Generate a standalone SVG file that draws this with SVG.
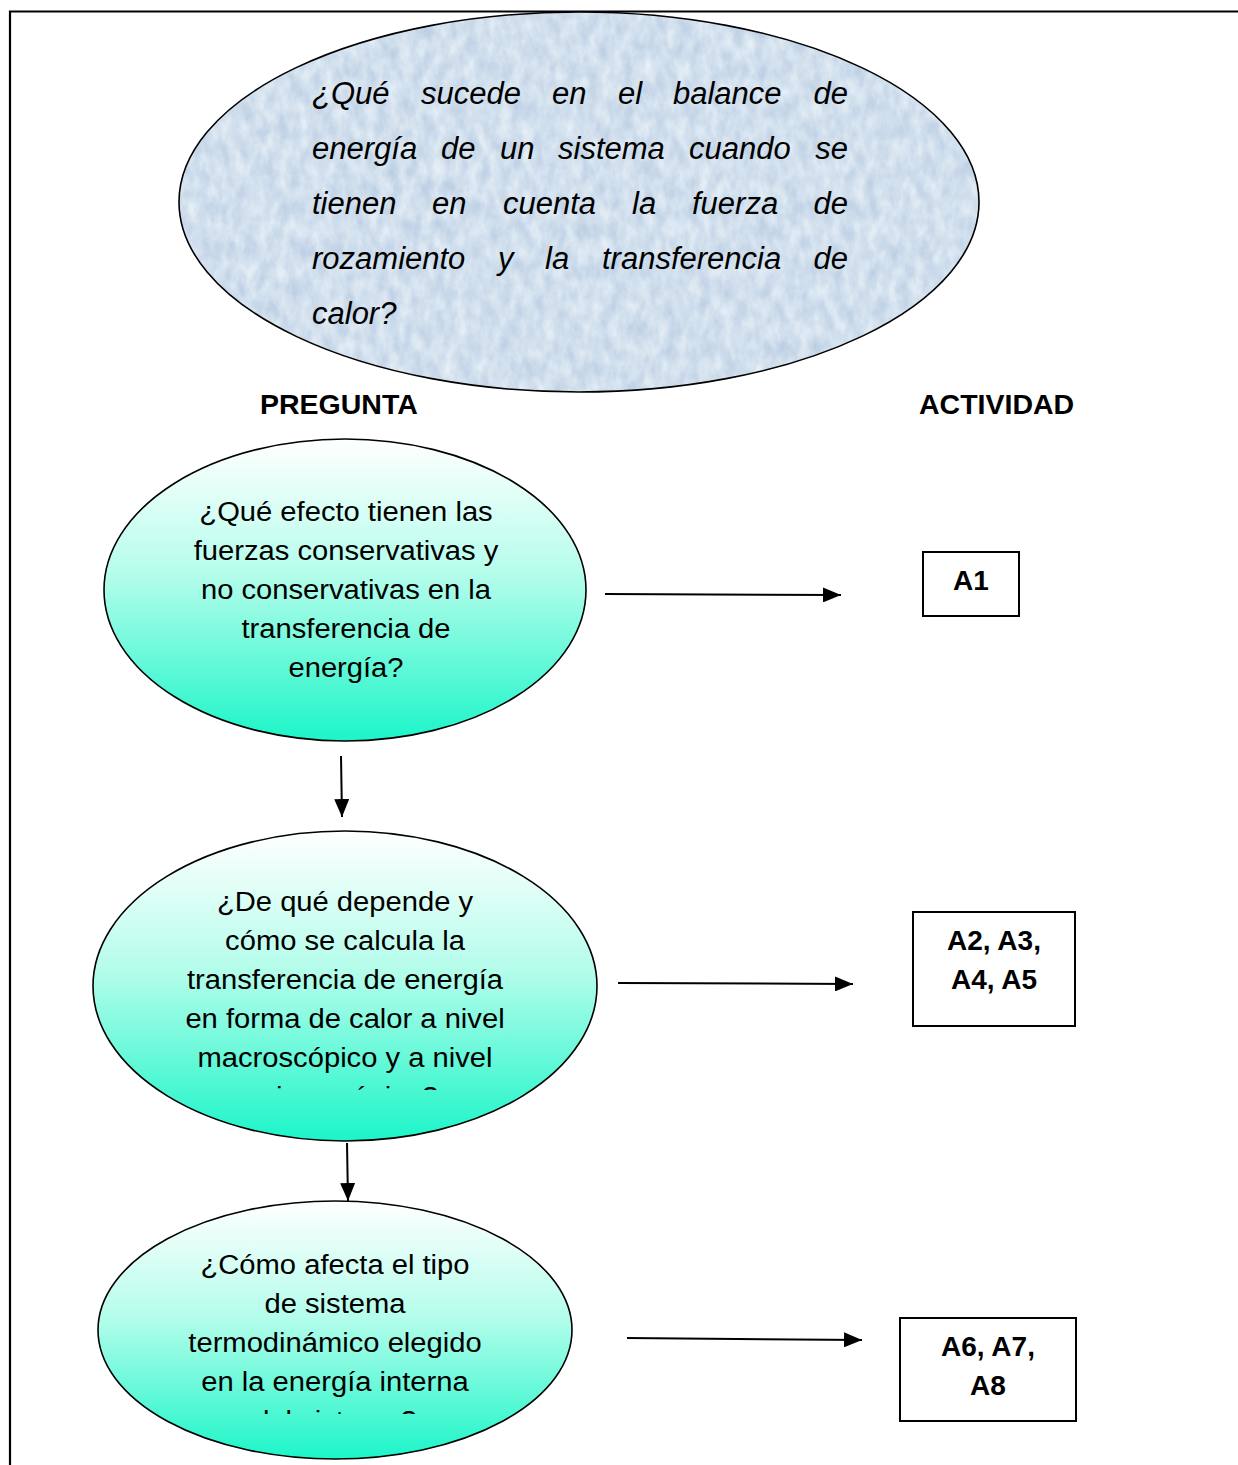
<svg xmlns="http://www.w3.org/2000/svg" width="1238" height="1465" viewBox="0 0 1238 1465">
  <defs>
    <style>
      .frame { fill: none; stroke: #000; stroke-width: 2.2; }
      .oval { stroke: #000; stroke-width: 1.6; }
      .box { fill: #fff; stroke: #000; stroke-width: 2; }
      .q { font-family: "Liberation Sans", Arial, sans-serif; font-size: 31px; font-style: italic; fill: #000; }
      .t { font-family: "Liberation Sans", Arial, sans-serif; font-size: 27px; fill: #000; text-anchor: middle; }
      .h { font-family: "Liberation Sans", Arial, sans-serif; font-size: 28.5px; font-weight: bold; fill: #000; }
      .a { font-family: "Liberation Sans", Arial, sans-serif; font-size: 28px; font-weight: bold; fill: #000; text-anchor: middle; }
      .conn { stroke: #000; stroke-width: 2; fill: none; marker-end: url(#head); }
    </style>
    <linearGradient id="mint" x1="0" y1="0" x2="0" y2="1">
      <stop offset="0" stop-color="#ffffff"/>
      <stop offset="0.45" stop-color="#b4fdeb"/>
      <stop offset="1" stop-color="#1cf5c8"/>
    </linearGradient>
    <!-- frosted blue paper texture for the main question -->
    <filter id="frost" x="0" y="0" width="1" height="1" color-interpolation-filters="sRGB">
      <feTurbulence type="fractalNoise" baseFrequency="0.09 0.05" numOctaves="4" seed="7" result="n"/>
      <feColorMatrix in="n" type="matrix" values="0.22 0 0 0 0.71  0.17 0 0 0 0.79  0.1 0 0 0 0.88  0 0 0 0 1" result="c"/>
      <feComposite in="c" in2="SourceAlpha" operator="in"/>
    </filter>
    <marker id="head" viewBox="0 0 18 15" markerUnits="userSpaceOnUse" markerWidth="18" markerHeight="15" refX="18" refY="7.5" orient="auto">
      <path d="M0,0 L18,7.5 L0,15 z" fill="#000"/>
    </marker>
    <clipPath id="clip3"><rect x="80" y="820" width="540" height="270"/></clipPath>
    <clipPath id="clip4"><rect x="80" y="1195" width="520" height="219"/></clipPath>
  </defs>

  <!-- page frame -->
  <path class="frame" d="M10,1465 V11.5 H1238"/>

  <!-- main question -->
  <g id="main-question">
    <ellipse cx="579" cy="202" rx="400" ry="190" fill="#d6e3f0" filter="url(#frost)"/>
    <ellipse cx="579" cy="202" rx="400" ry="190" fill="none" class="oval"/>
    <text class="q" y="104"><tspan x="312">¿Qué</tspan><tspan x="421">sucede</tspan><tspan x="552">en</tspan><tspan x="618">el</tspan><tspan x="673">balance</tspan></text>
    <text class="q" y="104" x="848" text-anchor="end">de</text>
    <text class="q" y="159"><tspan x="312">energía</tspan><tspan x="441">de</tspan><tspan x="500">un</tspan><tspan x="558">sistema</tspan><tspan x="689">cuando</tspan></text>
    <text class="q" y="159" x="848" text-anchor="end">se</text>
    <text class="q" y="214"><tspan x="312">tienen</tspan><tspan x="432">en</tspan><tspan x="503">cuenta</tspan><tspan x="632">la</tspan><tspan x="692">fuerza</tspan></text>
    <text class="q" y="214" x="848" text-anchor="end">de</text>
    <text class="q" y="269"><tspan x="312">rozamiento</tspan><tspan x="498">y</tspan><tspan x="545">la</tspan><tspan x="602">transferencia</tspan></text>
    <text class="q" y="269" x="848" text-anchor="end">de</text>
    <text class="q" y="324" x="312">calor?</text>
  </g>

  <!-- column headings -->
  <g id="headings">
    <text class="h" x="260" y="414">PREGUNTA</text>
    <text class="h" x="919" y="414">ACTIVIDAD</text>
  </g>

  <!-- question 1 -->
  <g id="q1">
    <ellipse class="oval" cx="345" cy="590" rx="241" ry="151" fill="url(#mint)"/>
    <g transform="translate(346 0) scale(1.08 1)">
      <text class="t" x="0" y="521">¿Qué efecto tienen las</text>
      <text class="t" x="0" y="560">fuerzas conservativas y</text>
      <text class="t" x="0" y="599">no conservativas en la</text>
      <text class="t" x="0" y="638">transferencia de</text>
      <text class="t" x="0" y="677">energía?</text>
    </g>
  </g>

  <!-- question 2 -->
  <g id="q2">
    <ellipse class="oval" cx="345" cy="986" rx="252" ry="155" fill="url(#mint)"/>
    <g clip-path="url(#clip3)">
      <g transform="translate(345 0) scale(1.08 1)">
        <text class="t" x="0" y="911">¿De qué depende y</text>
        <text class="t" x="0" y="950">cómo se calcula la</text>
        <text class="t" x="0" y="989">transferencia de energía</text>
        <text class="t" x="0" y="1028">en forma de calor a nivel</text>
        <text class="t" x="0" y="1067">macroscópico y a nivel</text>
        <text class="t" x="0" y="1106">microscópico?</text>
      </g>
    </g>
  </g>

  <!-- question 3 -->
  <g id="q3">
    <ellipse class="oval" cx="335" cy="1330" rx="237" ry="129" fill="url(#mint)"/>
    <g clip-path="url(#clip4)">
      <g transform="translate(335 0) scale(1.08 1)">
        <text class="t" x="0" y="1274">¿Cómo afecta el tipo</text>
        <text class="t" x="0" y="1313">de sistema</text>
        <text class="t" x="0" y="1352">termodinámico elegido</text>
        <text class="t" x="0" y="1391">en la energía interna</text>
        <text class="t" x="0" y="1430">del sistema?</text>
      </g>
    </g>
  </g>

  <!-- activities -->
  <g id="act-a1">
    <rect class="box" x="923" y="552" width="96" height="64"/>
    <text class="a" x="971" y="590">A1</text>
  </g>
  <g id="act-a2-a5">
    <rect class="box" x="913" y="912" width="162" height="114"/>
    <text class="a" x="994" y="950">A2, A3,</text>
    <text class="a" x="994" y="989">A4, A5</text>
  </g>
  <g id="act-a6-a8">
    <rect class="box" x="900" y="1318" width="176" height="103"/>
    <text class="a" x="988" y="1356">A6, A7,</text>
    <text class="a" x="988" y="1395">A8</text>
  </g>

  <!-- connectors -->
  <g id="connectors">
    <line class="conn" x1="605" y1="594" x2="841" y2="595"/>
    <line class="conn" x1="618" y1="983" x2="853" y2="984"/>
    <line class="conn" x1="627" y1="1338" x2="862" y2="1340"/>
    <line class="conn" x1="341" y1="756" x2="342" y2="817"/>
    <line class="conn" x1="347" y1="1143" x2="348" y2="1201"/>
  </g>
</svg>
